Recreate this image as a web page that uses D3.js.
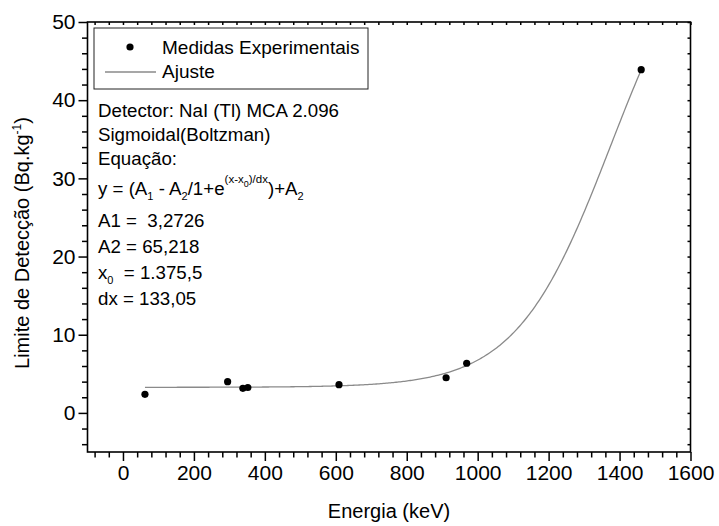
<!DOCTYPE html>
<html><head><meta charset="utf-8">
<script src="https://cdn.jsdelivr.net/npm/d3@7"></script>
<style>
html,body{margin:0;padding:0;background:#fff;}
svg{display:block;font-family:"Liberation Sans",Arial,sans-serif;}
</style></head>
<body><svg id="c" width="719" height="526"></svg>
<script>
// ---- data ----
const energy = [62, 295, 338, 352, 609, 911, 969, 1461];
const limit  = [2.38, 3.99, 3.15, 3.25, 3.61, 4.5, 6.35, 43.9];
// Boltzmann fit parameters shown on chart
const A1 = 3.2726, A2 = 65.218, X0 = 1375.5, DX = 133.05;
const xTicks = [0, 200, 400, 600, 800, 1000, 1200, 1400, 1600];
const yTicks = [0, 10, 20, 30, 40, 50];

const svg = d3.select("#c");
const L = 87.5, R = 690.5, T = 22, B = 452;
const x = d3.scaleLinear().domain([-100, 1600]).range([L, R]);
const y = d3.scaleLinear().domain([-5, 50]).range([B, T]);

// fit curve
const fx = d3.range(energy[0], energy[energy.length-1] + 0.1, 4);
if (fx[fx.length-1] < energy[energy.length-1]) fx.push(energy[energy.length-1]);
const fit = fx.map(v => [v, (A1 - A2) / (1 + Math.exp((v - X0) / DX)) + A2]);
svg.append("path").datum(fit)
  .attr("d", d3.line().x(d => x(d[0])).y(d => y(d[1])))
  .attr("fill", "none").attr("stroke", "#8a8a8a").attr("stroke-width", 1.3);

// points
svg.selectAll("circle.pt").data(energy).join("circle")
  .attr("class", "pt")
  .attr("cx", d => x(d)).attr("cy", (d, i) => y(limit[i])).attr("r", 3.6).attr("fill", "#000");

// axes
const xMinor = d3.range(-80, 1600, 40).filter(v => v % 200 !== 0);
const yMinor = d3.range(-4, 50, 2).filter(v => v % 10 !== 0);

const gx = svg.append("g").attr("transform", `translate(0,${B})`)
  .call(d3.axisBottom(x).tickValues(xTicks).tickSize(9).tickPadding(4).tickFormat(d3.format("d")));
const gxm = svg.append("g").attr("transform", `translate(0,${B})`)
  .call(d3.axisBottom(x).tickValues(xMinor).tickSize(5.5).tickFormat(""));
const gy = svg.append("g").attr("transform", `translate(${L},0)`)
  .call(d3.axisLeft(y).tickValues(yTicks).tickSize(9).tickPadding(3).tickFormat(d3.format("d")));
const gym = svg.append("g").attr("transform", `translate(${L},0)`)
  .call(d3.axisLeft(y).tickValues(yMinor).tickSize(5.5).tickFormat(""));
// top and right mirror ticks
const gt = svg.append("g").attr("transform", `translate(0,${T})`)
  .call(d3.axisTop(x).tickValues(xTicks.concat(xMinor)).tickSize(-3).tickFormat(""));
const gr = svg.append("g").attr("transform", `translate(${R},0)`)
  .call(d3.axisRight(y).tickValues(yTicks.concat(yMinor)).tickSize(-3).tickFormat(""));

[gx, gxm, gy, gym, gt, gr].forEach(g => {
  g.select(".domain").remove();
  g.selectAll("line").attr("stroke", "#000").attr("stroke-width", 1.5);
  g.selectAll("text").attr("font-size", 21).attr("fill", "#000")
    .attr("font-family", "Liberation Sans, Arial, sans-serif");
});
gx.selectAll("text").attr("dy", "0.71em");

svg.append("rect").attr("x", L).attr("y", T).attr("width", R - L).attr("height", B - T)
  .attr("fill", "none").attr("stroke", "#000").attr("stroke-width", 1.6);

// axis titles
svg.append("text").attr("x", (L + R) / 2).attr("y", 518).attr("text-anchor", "middle")
  .attr("font-size", 20).text("Energia (keV)");
const yt = svg.append("text").attr("transform", `translate(29,243) rotate(-90)`)
  .attr("text-anchor", "middle").attr("font-size", 20);
yt.append("tspan").text("Limite de Detecção (Bq.kg");
yt.append("tspan").attr("font-size", 12).attr("dy", -8).text("-1");
yt.append("tspan").attr("dy", 8).text(")");

// legend
svg.append("rect").attr("x", 94).attr("y", 28).attr("width", 274).attr("height", 61)
  .attr("fill", "#fff").attr("stroke", "#222").attr("stroke-width", 1);
svg.append("circle").attr("cx", 130).attr("cy", 47).attr("r", 3.6).attr("fill", "#000");
svg.append("text").attr("x", 162).attr("y", 54).attr("font-size", 19).text("Medidas Experimentais");
svg.append("line").attr("x1", 105).attr("x2", 156).attr("y1", 72).attr("y2", 72)
  .attr("stroke", "#8a8a8a").attr("stroke-width", 1.3);
svg.append("text").attr("x", 162).attr("y", 78).attr("font-size", 19).text("Ajuste");

// annotation
const fs = 18.7, tx = 98;
const simple = [["Detector: NaI (Tl) MCA 2.096", 117], ["Sigmoidal(Boltzman)", 141], ["Equação:", 165],
  ["A1 =  3,2726", 227], ["A2 = 65,218", 253], ["dx = 133,05", 305]];
simple.forEach(([s, yy]) => svg.append("text").attr("x", tx).attr("y", yy)
  .attr("font-size", fs).style("white-space", "pre").text(s));

// equation line
const eq = svg.append("text").attr("x", tx).attr("y", 195).attr("font-size", fs);
const parts = [
  ["y = (A", 0, fs], ["1", 5, 11], [" - A", -5, fs], ["2", 5, 11], ["/1+e", -5, fs],
  ["(x-x", -12, 11.5], ["0", 4, 9], [")/dx", -4, 11.5], [")+A", 12, fs], ["2", 5, 11]
];
parts.forEach(([s, dy, f]) => eq.append("tspan").attr("dy", dy).attr("font-size", f)
  .style("white-space", "pre").text(s));

const x0t = svg.append("text").attr("x", tx).attr("y", 279).attr("font-size", fs).style("white-space", "pre");
x0t.append("tspan").text("x");
x0t.append("tspan").attr("dy", 5).attr("font-size", 11).text("0");
x0t.append("tspan").attr("dy", -5).text("  = 1.375,5");
</script></body></html>
